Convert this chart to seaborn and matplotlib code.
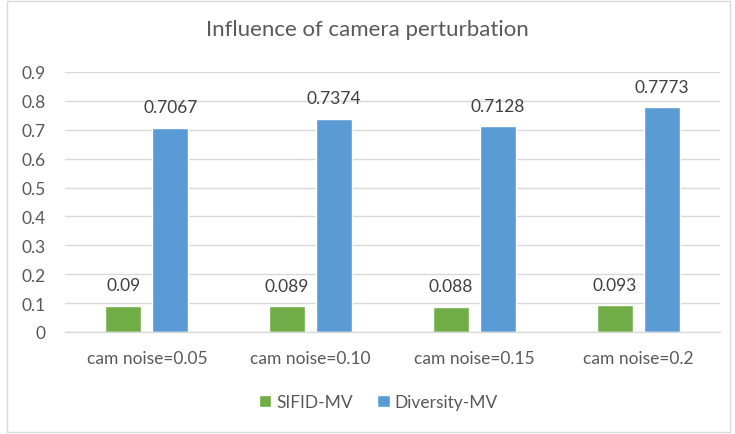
import matplotlib
matplotlib.use("Agg")
import matplotlib.pyplot as plt
import seaborn as sns
import pandas as pd
from matplotlib.patches import Rectangle

# data
categories = ["cam noise=0.05", "cam noise=0.10", "cam noise=0.15", "cam noise=0.2"]
sifid_mv = [0.09, 0.089, 0.088, 0.093]
diversity_mv = [0.7067, 0.7374, 0.7128, 0.7773]
series_names = ["SIFID-MV", "Diversity-MV"]
value_labels = [["0.09", "0.089", "0.088", "0.093"],
                ["0.7067", "0.7374", "0.7128", "0.7773"]]

df = pd.DataFrame({
    "category": categories * 2,
    "value": sifid_mv + diversity_mv,
    "series": [series_names[0]] * 4 + [series_names[1]] * 4,
})

sns.set_style("white")
plt.rcParams["font.family"] = ["Lato", "DejaVu Sans"]

text_color = "#595959"
grid_color = "#D9D9D9"
colors = ["#70AD47", "#5B9BD5"]

fig = plt.figure(figsize=(7.35, 4.35), dpi=100)
ax = fig.add_axes([65 / 735, 1 - 333 / 435, 655 / 735, 260 / 435])

sns.barplot(
    data=df,
    x="category",
    y="value",
    hue="series",
    palette=colors,
    saturation=1,
    width=0.574,
    gap=0.23,
    ax=ax,
    legend=True,
)

for container, labels in zip(ax.containers, value_labels):
    ax.bar_label(container, labels=labels, padding=9,
                 fontsize=12.5, color="#404040")

ax.set_ylim(0, 0.9)
ax.set_yticks([i / 10 for i in range(10)])
ax.set_yticklabels(["0"] + [f"0.{i}" for i in range(1, 10)])
ax.set_xlim(-0.5, 3.5)
ax.set_xlabel("")
ax.set_ylabel("")

ax.yaxis.grid(True, color=grid_color, linewidth=1)
ax.set_axisbelow(True)
for side in ["top", "right", "left"]:
    ax.spines[side].set_visible(False)
ax.spines["bottom"].set_color(grid_color)
ax.spines["bottom"].set_linewidth(1)
ax.tick_params(axis="both", length=0, labelsize=12.5, colors=text_color)
ax.tick_params(axis="x", pad=13)
ax.tick_params(axis="y", pad=14)

fig.text(0.5, 1 - 30 / 435, "Influence of camera perturbation",
         ha="center", va="center", fontsize=16, color=text_color)

handles, labels = ax.get_legend_handles_labels()
ax.legend_.remove()
fig.legend(handles, labels, loc="center", bbox_to_anchor=(0.515, 1 - 403 / 435),
           ncol=2, frameon=False, fontsize=12.5, labelcolor=text_color,
           handlelength=0.7, handleheight=0.7, handletextpad=0.3,
           columnspacing=1.4)

# outer chart border like the office chart frame
fig.patches.append(Rectangle((7 / 735, 2 / 435), 723 / 735, 431 / 435,
                             transform=fig.transFigure, fill=False,
                             edgecolor=grid_color, linewidth=1))

fig.savefig("out.png", dpi=100)
